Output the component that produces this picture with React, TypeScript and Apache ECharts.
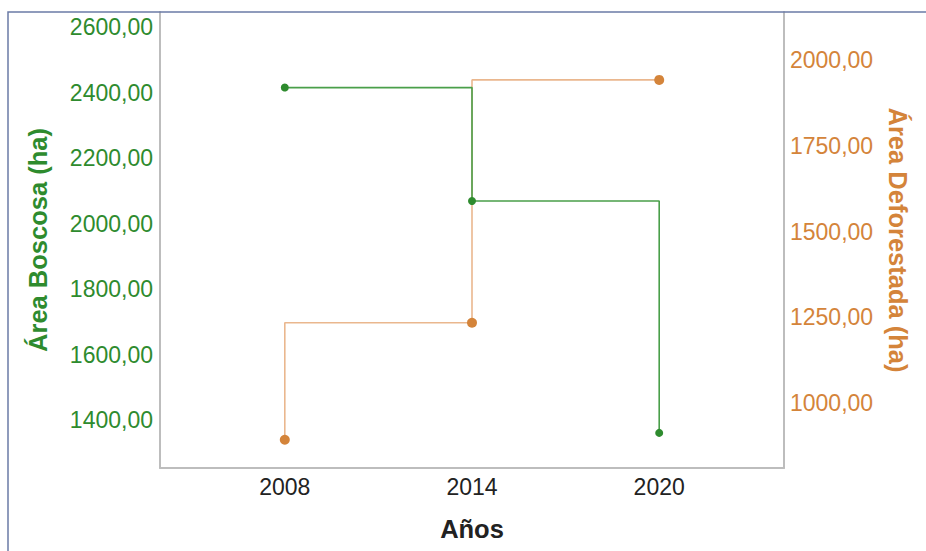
import React, { useEffect, useRef } from "react";
import * as echarts from "echarts";

const years = [2008, 2014, 2020];
const areaBoscosa = [2416, 2070, 1362];
const areaDeforestada = [893, 1234, 1942];
const yearTicks = [2008, 2014, 2020];
const leftTicks = [1400, 1600, 1800, 2000, 2200, 2400, 2600];
const rightTicks = [1000, 1250, 1500, 1750, 2000];

const GREEN = "#2e8b2e";
const GREEN_LINE = "#4a9f4a";
const ORANGE = "#d4843a";
const ORANGE_LINE = "#eab78e";
const FONT = "Liberation Sans, Arial, sans-serif";

const fmt = (v: number) => v.toFixed(2).replace(".", ",");

export default function App() {
  const ref = useRef<HTMLDivElement>(null);
  useEffect(() => {
    if (!ref.current) return;
    const chart = echarts.init(ref.current, undefined, { renderer: "svg" });
    chart.setOption({
      animation: false,
      backgroundColor: "#ffffff",
      textStyle: { fontFamily: FONT },
      grid: { left: 160, right: 142, top: 12, bottom: 83, containLabel: false },
      graphic: [
        {
          type: "rect",
          shape: { x: 8, y: 12, width: 960, height: 600 },
          style: { fill: "none", stroke: "#6b7ba6", lineWidth: 1.5 },
          silent: true,
          z: 100,
        },
      ],
      xAxis: {
        type: "value",
        min: 2004,
        max: 2024,
        name: "Años",
        nameLocation: "middle",
        nameGap: 48,
        nameTextStyle: { fontSize: 25.5, fontWeight: "bold", color: "#222", fontFamily: FONT },
        axisLine: { show: true, onZero: false, lineStyle: { color: "#bdbdbd", width: 2 } },
        axisTick: { show: false },
        splitLine: { show: false },
        axisLabel: {
          customValues: yearTicks,
          formatter: (v: number) => String(v),
          fontSize: 23,
          color: "#222",
          margin: 7,
          fontFamily: FONT,
        },
      },
      yAxis: [
        {
          type: "value",
          position: "left",
          min: 1254.8,
          max: 2646.7,
          name: "Área Boscosa (ha)",
          nameLocation: "middle",
          nameRotate: 90,
          nameGap: 109,
          nameTextStyle: { fontSize: 25.5, fontWeight: "bold", color: GREEN, fontFamily: FONT },
          axisLine: { show: true, lineStyle: { color: "#bdbdbd", width: 2 } },
          axisTick: { show: false },
          splitLine: { show: false },
          axisLabel: {
            customValues: leftTicks,
            formatter: fmt,
            fontSize: 23,
            color: GREEN,
            margin: 7,
            fontFamily: FONT,
          },
        },
        {
          type: "value",
          position: "right",
          min: 810.6,
          max: 2140,
          name: "Área Deforestada (ha)",
          nameLocation: "middle",
          nameRotate: -90,
          nameGap: 101,
          nameTextStyle: { fontSize: 25.5, fontWeight: "bold", color: ORANGE, fontFamily: FONT },
          axisLine: { show: true, lineStyle: { color: "#bdbdbd", width: 2 } },
          axisTick: { show: false },
          splitLine: { show: false },
          axisLabel: {
            customValues: rightTicks,
            formatter: fmt,
            fontSize: 23,
            color: ORANGE,
            margin: 6,
            fontFamily: FONT,
          },
        },
      ],
      series: [
        {
          name: "Área Deforestada",
          type: "line",
          yAxisIndex: 1,
          step: "start",
          data: years.map((y, i) => [y, areaDeforestada[i]]),
          symbol: "circle",
          symbolSize: 10,
          showAllSymbol: true,
          itemStyle: { color: ORANGE },
          lineStyle: { color: ORANGE_LINE, width: 1.6 },
          z: 2,
        },
        {
          name: "Área Boscosa",
          type: "line",
          yAxisIndex: 0,
          step: "end",
          data: years.map((y, i) => [y, areaBoscosa[i]]),
          symbol: "circle",
          symbolSize: 8,
          showAllSymbol: true,
          itemStyle: { color: GREEN },
          lineStyle: { color: GREEN_LINE, width: 1.6 },
          z: 3,
        },
      ],
    });
    return () => chart.dispose();
  }, []);
  return (
    <div
      ref={ref}
      style={{ position: "fixed", left: 0, top: 0, width: 926, height: 551 }}
    />
  );
}
